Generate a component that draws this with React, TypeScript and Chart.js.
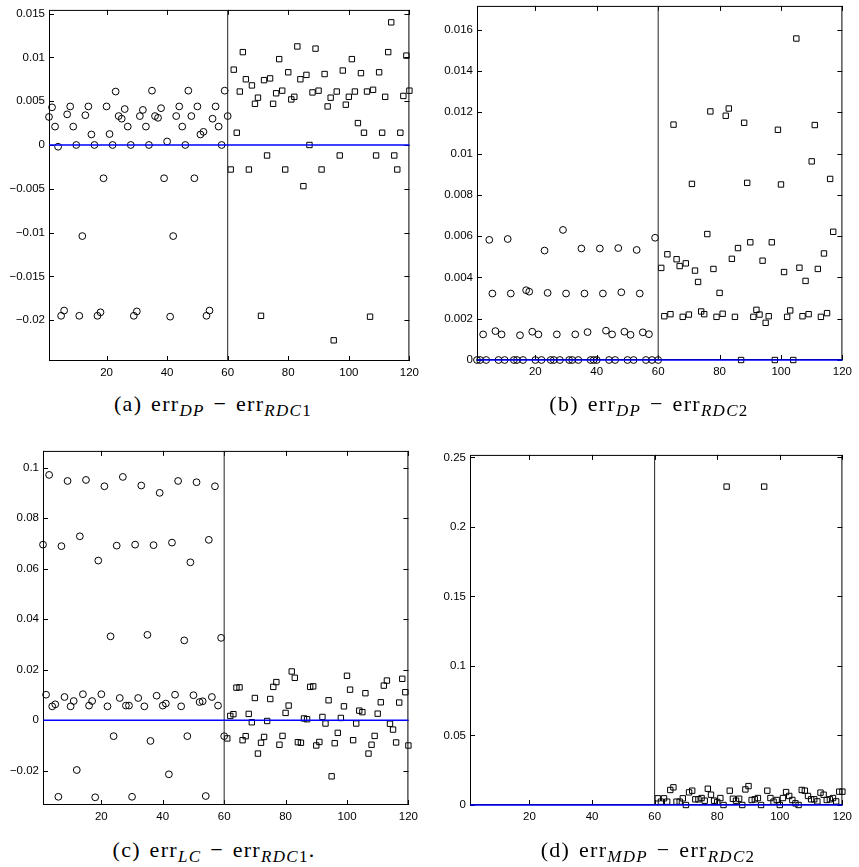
import React, { useEffect, useRef } from "react";
import { Chart, registerables } from "chart.js";
Chart.register(...registerables);

// ---------- data ----------
const xTicks = [20, 40, 60, 80, 100, 120];

const aYTicks = [-0.02, -0.015, -0.01, -0.005, 0, 0.005, 0.01, 0.015];
const aCircles = [
  0.0032, 0.0043, 0.0021, -0.0002, -0.0195, -0.0189, 0.0035, 0.0044, 0.0021, 0.0,
  -0.0195, -0.0104, 0.0034, 0.0044, 0.0012, 0.0, -0.0195, -0.0191, -0.0038, 0.0044,
  0.00125, 0.0, 0.0061, 0.0033, 0.003, 0.0041, 0.0021, 0.0, -0.0195, -0.019,
  0.0033, 0.004, 0.0021, 0.0, 0.0062, 0.0033, 0.0031, 0.0042, -0.0038, 0.0004,
  -0.0196, -0.0104, 0.0033, 0.0044, 0.0021, 0.0, 0.0062, 0.0033, -0.0038, 0.0044,
  0.0012, 0.0015, -0.0195, -0.0189, 0.003, 0.0044, 0.0021, 0.0, 0.0062, 0.0033,
];
const aSquares = [
  -0.0028, 0.0086, 0.0014, 0.0061, 0.0106, 0.0075, -0.0028, 0.0068, 0.0047, 0.0054,
  -0.0195, 0.0074, -0.0012, 0.0076, 0.0047, 0.0059, 0.0098, 0.0062, -0.0028, 0.0083,
  0.0052, 0.0055, 0.01125, 0.0075, -0.0047, 0.008, 0.0, 0.006, 0.011, 0.0062,
  -0.0028, 0.0081, 0.0044, 0.0054, -0.0223, 0.0061, -0.0012, 0.0085, 0.0046, 0.0055,
  0.0098, 0.0061, 0.0025, 0.0082, 0.0014, 0.0061, -0.0196, 0.0063, -0.0012, 0.0083,
  0.0014, 0.0055, 0.0106, 0.014, -0.0012, -0.0028, 0.0014, 0.0056, 0.0102, 0.0062,
];

const bYTicks = [0, 0.002, 0.004, 0.006, 0.008, 0.01, 0.012, 0.014, 0.016];
const bCircles = [
  0, 0, 0.00124, 0, 0.00582, 0.00322, 0.0014, 0, 0.00124, 0,
  0.00586, 0.00322, 0, 0, 0.0012, 0, 0.00338, 0.00331, 0.00137, 0,
  0.00124, 0, 0.0053, 0.00325, 0, 0, 0.00124, 0, 0.0063, 0.00322,
  0, 0, 0.00124, 0, 0.0054, 0.00322, 0.00135, 0, 0, 0,
  0.0054, 0.00322, 0.00142, 0, 0.00124, 0, 0.00542, 0.00328, 0.00137, 0,
  0.00122, 0, 0.00533, 0.00322, 0.00134, 0, 0.00125, 0, 0.00592, 0,
];
const bSquares = [
  0.00446, 0.00212, 0.00512, 0.00222, 0.0114, 0.00488, 0.00455, 0.00209, 0.00468, 0.0022,
  0.00853, 0.00433, 0.00378, 0.00235, 0.00222, 0.0061, 0.01204, 0.00441, 0.00209, 0.00325,
  0.00224, 0.01183, 0.01218, 0.0049, 0.00209, 0.00542, 0, 0.01149, 0.00858, 0.0057,
  0.00209, 0.00243, 0.0022, 0.00481, 0.0018, 0.00212, 0.0057, 0, 0.01115, 0.0085,
  0.00426, 0.00209, 0.0024, 0, 0.01557, 0.00447, 0.00212, 0.00383, 0.00222, 0.00962,
  0.01138, 0.00441, 0.00209, 0.00516, 0.00227, 0.00877, 0.00621,
];

const cYTicks = [-0.02, 0, 0.02, 0.04, 0.06, 0.08, 0.1];
const cCircles = [
  0.0695, 0.0101, 0.0971, 0.0055, 0.0063, -0.0303, 0.0689, 0.0092, 0.0947, 0.0055,
  0.0076, -0.0197, 0.0728, 0.0103, 0.0951, 0.0058, 0.0076, -0.0305, 0.0632, 0.0103,
  0.0926, 0.0055, 0.0332, -0.0063, 0.0691, 0.0088, 0.0963, 0.0058, 0.0058, -0.0303,
  0.0695, 0.0088, 0.0929, 0.0055, 0.0338, -0.0082, 0.0693, 0.0097, 0.09, 0.0058,
  0.0066, -0.0214, 0.0703, 0.0101, 0.0947, 0.0055, 0.0316, -0.0063, 0.0625, 0.0099,
  0.0942, 0.0072, 0.0075, -0.03, 0.0714, 0.0092, 0.0926, 0.0058, 0.0326, -0.0063,
];
const cSquares = [
  -0.0072, 0.0017, 0.0024, 0.0129, 0.013, -0.0079, -0.0063, 0.0025, -0.0008, 0.0088,
  -0.0132, -0.0089, -0.0066, -0.0003, 0.0084, 0.0132, 0.0151, -0.0097, -0.0062, 0.0029,
  0.0058, 0.0193, 0.0168, -0.0087, -0.0089, 0.0007, 0.0004, 0.0132, 0.0134, -0.01,
  -0.0086, 0.0013, -0.0013, 0.0079, -0.0222, -0.0091, -0.005, 0.0009, 0.0055, 0.0176,
  0.0121, -0.0079, -0.0013, 0.0038, 0.0032, 0.0107, -0.0132, -0.0097, -0.0062, 0.0026,
  0.0071, 0.0137, 0.0157, -0.0014, -0.0037, -0.0088, 0.007, 0.0164, 0.0111, -0.01,
];

const dYTicks = [0, 0.05, 0.1, 0.15, 0.2, 0.25];
const dCircles: number[] = [];
const dSquares = [
  0.0048, 0.0024, 0.0048, 0.0024, 0.0108, 0.0127, 0.0024, 0.0024, 0.0048, 0.0,
  0.0091, 0.0103, 0.0041, 0.0041, 0.005, 0.0031, 0.0117, 0.0074, 0.0031, 0.0022,
  0.005, 0.0, 0.229, 0.0103, 0.0045, 0.0031, 0.0045, 0.0, 0.0112, 0.0136,
  0.0036, 0.0041, 0.005, 0.0, 0.229, 0.0103, 0.005, 0.0024, 0.0036, 0.0,
  0.005, 0.0093, 0.0065, 0.0036, 0.0012, 0.0, 0.0108, 0.0103, 0.0065, 0.0041,
  0.0041, 0.0026, 0.0089, 0.0074, 0.0036, 0.0041, 0.005, 0.0026, 0.0096, 0.0096,
];

// ---------- layout ----------
const Y_W = 60;
const X_H = 30;
const PAD = 10;
const TICK_FONT = { family: "'Liberation Sans', Arial, sans-serif", size: 11.5 };

type Panel = {
  key: string;
  circles: number[];
  squares: number[];
  yTicks: number[];
  yMin: number;
  yMax: number;
  box: { l: number; t: number; r: number; b: number };
};

const panels: Panel[] = [
  { key: "a", circles: aCircles, squares: aSquares, yTicks: aYTicks, yMin: -0.02466, yMax: 0.01542, box: { l: 49, t: 9, r: 414, b: 361 } },
  { key: "b", circles: bCircles, squares: bSquares, yTicks: bYTicks, yMin: 0, yMax: 0.01715, box: { l: 477, t: 5, r: 847, b: 360 } },
  { key: "c", circles: cCircles, squares: cSquares, yTicks: cYTicks, yMin: -0.03355, yMax: 0.1066, box: { l: 43, t: 450, r: 413, b: 805 } },
  { key: "d", circles: dCircles, squares: dSquares, yTicks: dYTicks, yMin: 0, yMax: 0.2518, box: { l: 470, t: 454, r: 847, b: 805 } },
];

const fmt = (v: number) => {
  const s = String(Math.round(v * 100000) / 100000);
  return s.replace("-", "\u2212");
};

const framePlugin = {
  id: "matlabFrame",
  beforeDatasetsDraw(chart: any) {
    const { ctx, chartArea, scales } = chart;
    const { left, top, right, bottom } = chartArea;
    ctx.save();
    ctx.strokeStyle = "#000";
    ctx.lineWidth = 1;
    ctx.strokeRect(left + 0.5, top + 0.5, right - left - 1, bottom - top - 1);
    ctx.beginPath();
    const tl = 5;
    scales.x.ticks.forEach((t: any) => {
      const px = Math.round(scales.x.getPixelForValue(t.value)) + 0.5;
      ctx.moveTo(px, bottom);
      ctx.lineTo(px, bottom - tl);
      ctx.moveTo(px, top);
      ctx.lineTo(px, top + tl);
    });
    scales.y.ticks.forEach((t: any) => {
      const py = Math.round(scales.y.getPixelForValue(t.value)) + 0.5;
      ctx.moveTo(left, py);
      ctx.lineTo(left + tl, py);
      ctx.moveTo(right, py);
      ctx.lineTo(right - tl, py);
    });
    ctx.stroke();
    ctx.restore();
  },
};

function PanelChart({ p }: { p: Panel }) {
  const ref = useRef<HTMLCanvasElement>(null);
  const w = p.box.r - p.box.l + Y_W + PAD;
  const h = p.box.b - p.box.t + PAD + X_H;
  useEffect(() => {
    if (!ref.current) return;
    const circleData = p.circles.map((v, i) => ({ x: i + 1, y: v }));
    const squareData = p.squares.map((v, i) => ({ x: i + 61, y: v }));
    const chart = new Chart(ref.current, {
      type: "scatter",
      data: {
        datasets: [
          {
            data: [{ x: 1, y: 0 }, { x: 120, y: 0 }],
            showLine: true,
            borderColor: "#0000ff",
            borderWidth: 1.3,
            pointRadius: 0,
            clip: false,
          } as any,
          {
            data: [{ x: 60, y: p.yMin }, { x: 60, y: p.yMax }],
            showLine: true,
            borderColor: "#222",
            borderWidth: 1,
            pointRadius: 0,
          } as any,
          {
            data: circleData,
            pointStyle: "circle",
            pointRadius: 3.4,
            borderColor: "#000",
            borderWidth: 1,
            backgroundColor: "rgba(0,0,0,0)",
            clip: false,
          } as any,
          {
            data: squareData,
            pointStyle: "rect",
            pointRadius: 3.8,
            borderColor: "#000",
            borderWidth: 1,
            backgroundColor: "rgba(0,0,0,0)",
            clip: false,
          } as any,
        ],
      },
      options: {
        animation: false,
        responsive: false,
        devicePixelRatio: 1,
        layout: { padding: { left: 0, top: PAD, right: PAD, bottom: 0 } },
        plugins: { legend: { display: false }, tooltip: { enabled: false } },
        events: [],
        scales: {
          x: {
            type: "linear",
            min: 1,
            max: 120,
            grid: { display: false, drawTicks: false },
            border: { display: false },
            afterFit: (s: any) => { s.height = X_H; },
            afterBuildTicks: (s: any) => { s.ticks = xTicks.map((v) => ({ value: v })); },
            ticks: { font: TICK_FONT, color: "#000", padding: 5, maxRotation: 0, autoSkip: false, callback: (v: any) => String(v) },
          },
          y: {
            type: "linear",
            min: p.yMin,
            max: p.yMax,
            grid: { display: false, drawTicks: false },
            border: { display: false },
            afterFit: (s: any) => { s.width = Y_W; },
            afterBuildTicks: (s: any) => { s.ticks = p.yTicks.map((v) => ({ value: v })); },
            ticks: { font: TICK_FONT, color: "#000", padding: 4, autoSkip: false, callback: (v: any) => fmt(Number(v)) },
          },
        },
      } as any,
      plugins: [framePlugin],
    });
    return () => chart.destroy();
  }, []);
  return (
    <div style={{ position: "absolute", left: p.box.l - Y_W, top: p.box.t - PAD, width: w, height: h }}>
      <canvas ref={ref} width={w} height={h} style={{ width: w, height: h, display: "block" }} />
    </div>
  );
}

const capStyle: React.CSSProperties = {
  position: "absolute",
  fontFamily: "'Liberation Serif', 'DejaVu Serif', serif",
  fontSize: 22,
  letterSpacing: "1.3px",
  wordSpacing: "2px",
  whiteSpace: "nowrap",
  transform: "translate(-50%, -50%)",
  color: "#000",
};
const subStyle: React.CSSProperties = { fontSize: 17, fontStyle: "italic", verticalAlign: "-0.3em", lineHeight: 0 };
const subN: React.CSSProperties = { fontSize: 17, verticalAlign: "-0.3em", lineHeight: 0 };

export default function App() {
  return (
    <div style={{ position: "absolute", left: 0, top: 0, width: 859, height: 867, background: "#fff" }}>
      {panels.map((p) => (
        <PanelChart key={p.key} p={p} />
      ))}
      <div style={{ ...capStyle, left: 213, top: 404 }}>
        (a) err<span style={subStyle}>DP</span> − err<span style={subStyle}>RDC</span><span style={subN}>1</span>
      </div>
      <div style={{ ...capStyle, left: 649, top: 404 }}>
        (b) err<span style={subStyle}>DP</span> − err<span style={subStyle}>RDC</span><span style={subN}>2</span>
      </div>
      <div style={{ ...capStyle, left: 214, top: 850 }}>
        (c) err<span style={subStyle}>LC</span> − err<span style={subStyle}>RDC</span><span style={subN}>1</span>.
      </div>
      <div style={{ ...capStyle, left: 648, top: 850 }}>
        (d) err<span style={subStyle}>MDP</span> − err<span style={subStyle}>RDC</span><span style={subN}>2</span>
      </div>
    </div>
  );
}
